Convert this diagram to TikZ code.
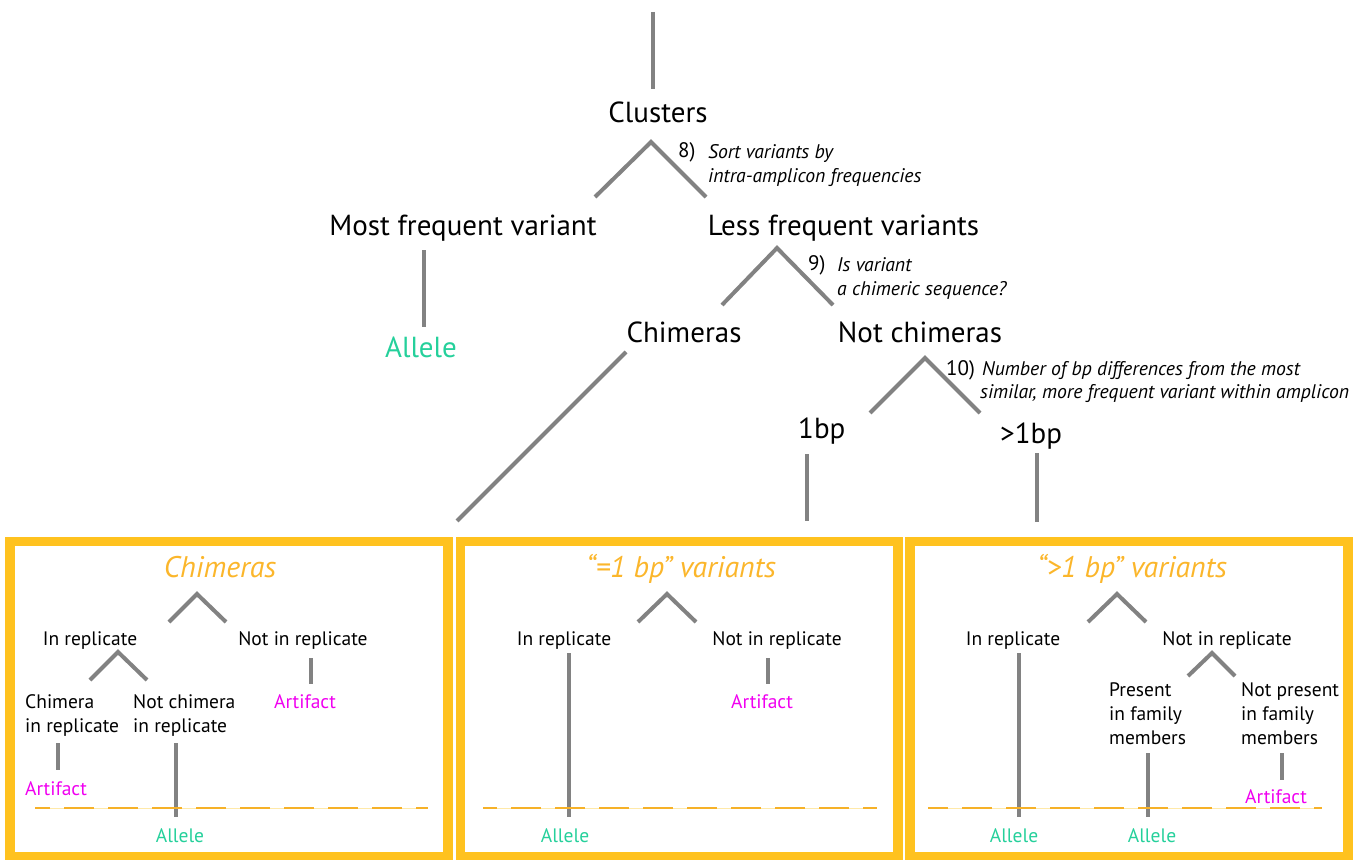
\documentclass[tikz,border=0pt]{standalone}
\usepackage{fontspec}
\setmainfont{PT Sans}
\definecolor{lgray}{HTML}{828282}
\definecolor{boxyel}{HTML}{FFC21F}
\definecolor{tityel}{HTML}{FBB62B}
\definecolor{dashyel}{HTML}{F6B128}
\definecolor{dashlight}{HTML}{FFE9A8}
\definecolor{allelegreen}{HTML}{25D09B}
\definecolor{artmag}{HTML}{F000F0}
\begin{document}
\begin{tikzpicture}[x=1pt,y=-1pt,
  br/.style={draw=lgray, line width=4pt},
  big/.style={font=\fontsize{29}{33}\selectfont, inner sep=0pt, anchor=base},
  stepn/.style={font=\fontsize{21}{24}\selectfont, inner sep=0pt, anchor=base west},
  stept/.style={font=\itshape\fontsize{19.7}{23}\selectfont, inner sep=0pt, anchor=base west},
  frame/.style={draw=boxyel, line width=9.5pt},
  boxtitle/.style={font=\itshape\fontsize{29.8}{34}\selectfont, text=tityel, inner sep=0pt, anchor=base},
  lab/.style={font=\fontsize{19.5}{24}\selectfont, inner sep=0pt, anchor=base},
  labl/.style={lab, anchor=base west},
  allele/.style={lab, text=allelegreen},
  artifact/.style={lab, text=artmag},
  cutline/.style={draw=dashyel, line width=2.2pt, dash pattern=on 30pt off 14pt},
  cutbase/.style={draw=dashlight, line width=0.8pt}
]
\useasboundingbox (0,0) rectangle (1359,859);

% ---------- upper tree ----------
\coordinate (top) at (653,12);
\coordinate (topend) at (653,89);
\draw[br] (top) -- (topend);
\node[big] (clusters) at (658,122) {Clusters};

\coordinate (a1l) at (595,197);
\coordinate (a1) at (651,142);
\coordinate (a1r) at (706,197);
\draw[br] (a1l) -- (a1) -- (a1r);
\node[stepn] (s8) at (678,157) {8)};
\node[stept] (s8a) at (708,158) {Sort variants by};
\node[stept] (s8b) at (708,182) {intra-amplicon frequencies};

\node[big] (most) at (463,235) {Most frequent variant};
\node[big] (less) at (843.5,235) {Less frequent variants};

\coordinate (m1) at (424,250);
\coordinate (m2) at (424,327);
\draw[br] (m1) -- (m2);
\node[big, text=allelegreen] (alleletop) at (421,357) {Allele};

\coordinate (a2l) at (722,305);
\coordinate (a2) at (777,248);
\coordinate (a2r) at (833,305);
\draw[br] (a2l) -- (a2) -- (a2r);
\node[stepn] (s9) at (808,270) {9)};
\node[stept] (s9a) at (837,271) {Is variant};
\node[stept] (s9b) at (837,295) {a chimeric sequence?};

\node[big] (chim) at (684,342) {Chimeras};
\node[big] (notchim) at (920,342) {Not chimeras};

\coordinate (d1) at (626,352);
\coordinate (d2) at (457,521);
\draw[br] (d1) -- (d2);

\coordinate (a3l) at (870,413);
\coordinate (a3) at (925,358);
\coordinate (a3r) at (980,413);
\draw[br] (a3l) -- (a3) -- (a3r);
\node[stepn] (s10) at (946,375) {10)};
\node[stept] (s10a) at (982,375) {Number of bp differences from the most};
\node[stept] (s10b) at (980,398) {similar, more frequent variant within amplicon};

\node[big, anchor=base west] (onebp) at (798,438) {1bp};
\node[big, anchor=base west] (gtbp) at (1000,443) {>1bp};
\coordinate (o1) at (807,454);
\coordinate (o2) at (807,521);
\draw[br] (o1) -- (o2);
\coordinate (g1) at (1037,453);
\coordinate (g2) at (1037,522);
\draw[br] (g1) -- (g2);

% ---------- frames ----------
\draw[frame] (10,541.5) rectangle (448,857);
\draw[frame] (460.5,541.5) rectangle (898,857);
\draw[frame] (910,541.5) rectangle (1348,857);

% ---------- box 1: Chimeras ----------
\node[boxtitle] (t1) at (220,577) {Chimeras};
\coordinate (b1l) at (169,622);
\coordinate (b1) at (197,594);
\coordinate (b1r) at (226,622);
\draw[br] (b1l) -- (b1) -- (b1r);
\node[lab] (b1in) at (90,645) {In replicate};
\node[lab] (b1not) at (303,645) {Not in replicate};
\coordinate (c1l) at (90,680);
\coordinate (c1) at (118,652);
\coordinate (c1r) at (147,680);
\draw[br] (c1l) -- (c1) -- (c1r);
\node[labl] (b1cha) at (25,708) {Chimera};
\node[labl] (b1chb) at (25,732) {in replicate};
\node[labl] (b1nca) at (133,708) {Not chimera};
\node[labl] (b1ncb) at (133,732) {in replicate};
\coordinate (e1) at (311,658);
\coordinate (e2) at (311,684);
\draw[br] (e1) -- (e2);
\node[artifact] (b1art1) at (305,708) {Artifact};
\coordinate (f1) at (58,743);
\coordinate (f2) at (58,770);
\draw[br] (f1) -- (f2);
\node[artifact] (b1art2) at (56,795) {Artifact};
\coordinate (h1) at (176,743);
\coordinate (h2) at (176,817);
\draw[br] (h1) -- (h2);
\coordinate (k1) at (35,808);
\coordinate (k2) at (428,808);
\draw[cutbase] (k1) -- (k2);
\draw[cutline, dash phase=15pt] (k1) -- (k2);
\node[allele] (b1all) at (180,842) {Allele};

% ---------- box 2: =1 bp ----------
\node[boxtitle] (t2) at (681,577) {“=1 bp” variants};
\coordinate (b2l) at (638,622);
\coordinate (b2) at (667,594);
\coordinate (b2r) at (696,622);
\draw[br] (b2l) -- (b2) -- (b2r);
\node[lab] (b2in) at (564,645) {In replicate};
\node[lab] (b2not) at (777,645) {Not in replicate};
\coordinate (p1) at (569,653);
\coordinate (p2) at (569,817);
\draw[br] (p1) -- (p2);
\coordinate (q1) at (768,658);
\coordinate (q2) at (768,684);
\draw[br] (q1) -- (q2);
\node[artifact] (b2art) at (762,708) {Artifact};
\coordinate (k3) at (483,808);
\coordinate (k4) at (877,808);
\draw[cutbase] (k3) -- (k4);
\draw[cutline, dash phase=16pt] (k3) -- (k4);
\node[allele] (b2all) at (565,842) {Allele};

% ---------- box 3: >1 bp ----------
\node[boxtitle] (t3) at (1132,577) {“>1 bp” variants};
\coordinate (b3l) at (1088,622);
\coordinate (b3) at (1117,594);
\coordinate (b3r) at (1146,622);
\draw[br] (b3l) -- (b3) -- (b3r);
\node[lab] (b3in) at (1013,645) {In replicate};
\node[lab] (b3not) at (1227,645) {Not in replicate};
\coordinate (c3l) at (1188,676);
\coordinate (c3) at (1212,653);
\coordinate (c3r) at (1235,676);
\draw[br] (c3l) -- (c3) -- (c3r);
\node[labl] (b3pa) at (1109,696) {Present};
\node[labl] (b3pb) at (1109,720) {in family};
\node[labl] (b3pc) at (1109,744) {members};
\node[labl] (b3na) at (1241,696) {Not present};
\node[labl] (b3nb) at (1241,720) {in family};
\node[labl] (b3nc) at (1241,744) {members};
\coordinate (r1) at (1019,653);
\coordinate (r2) at (1019,817);
\draw[br] (r1) -- (r2);
\coordinate (u1) at (1148,753);
\coordinate (u2) at (1148,817);
\draw[br] (u1) -- (u2);
\coordinate (v1) at (1282,753);
\coordinate (v2) at (1282,780);
\draw[br] (v1) -- (v2);
\node[artifact] (b3art) at (1276,803) {Artifact};
\coordinate (k5) at (928,808);
\coordinate (k6) at (1322,808);
\draw[cutbase] (k5) -- (k6);
\draw[cutline, dash phase=10pt] (k5) -- (k6);
\node[allele] (b3all1) at (1014,842) {Allele};
\node[allele] (b3all2) at (1152,842) {Allele};
\end{tikzpicture}
\end{document}
